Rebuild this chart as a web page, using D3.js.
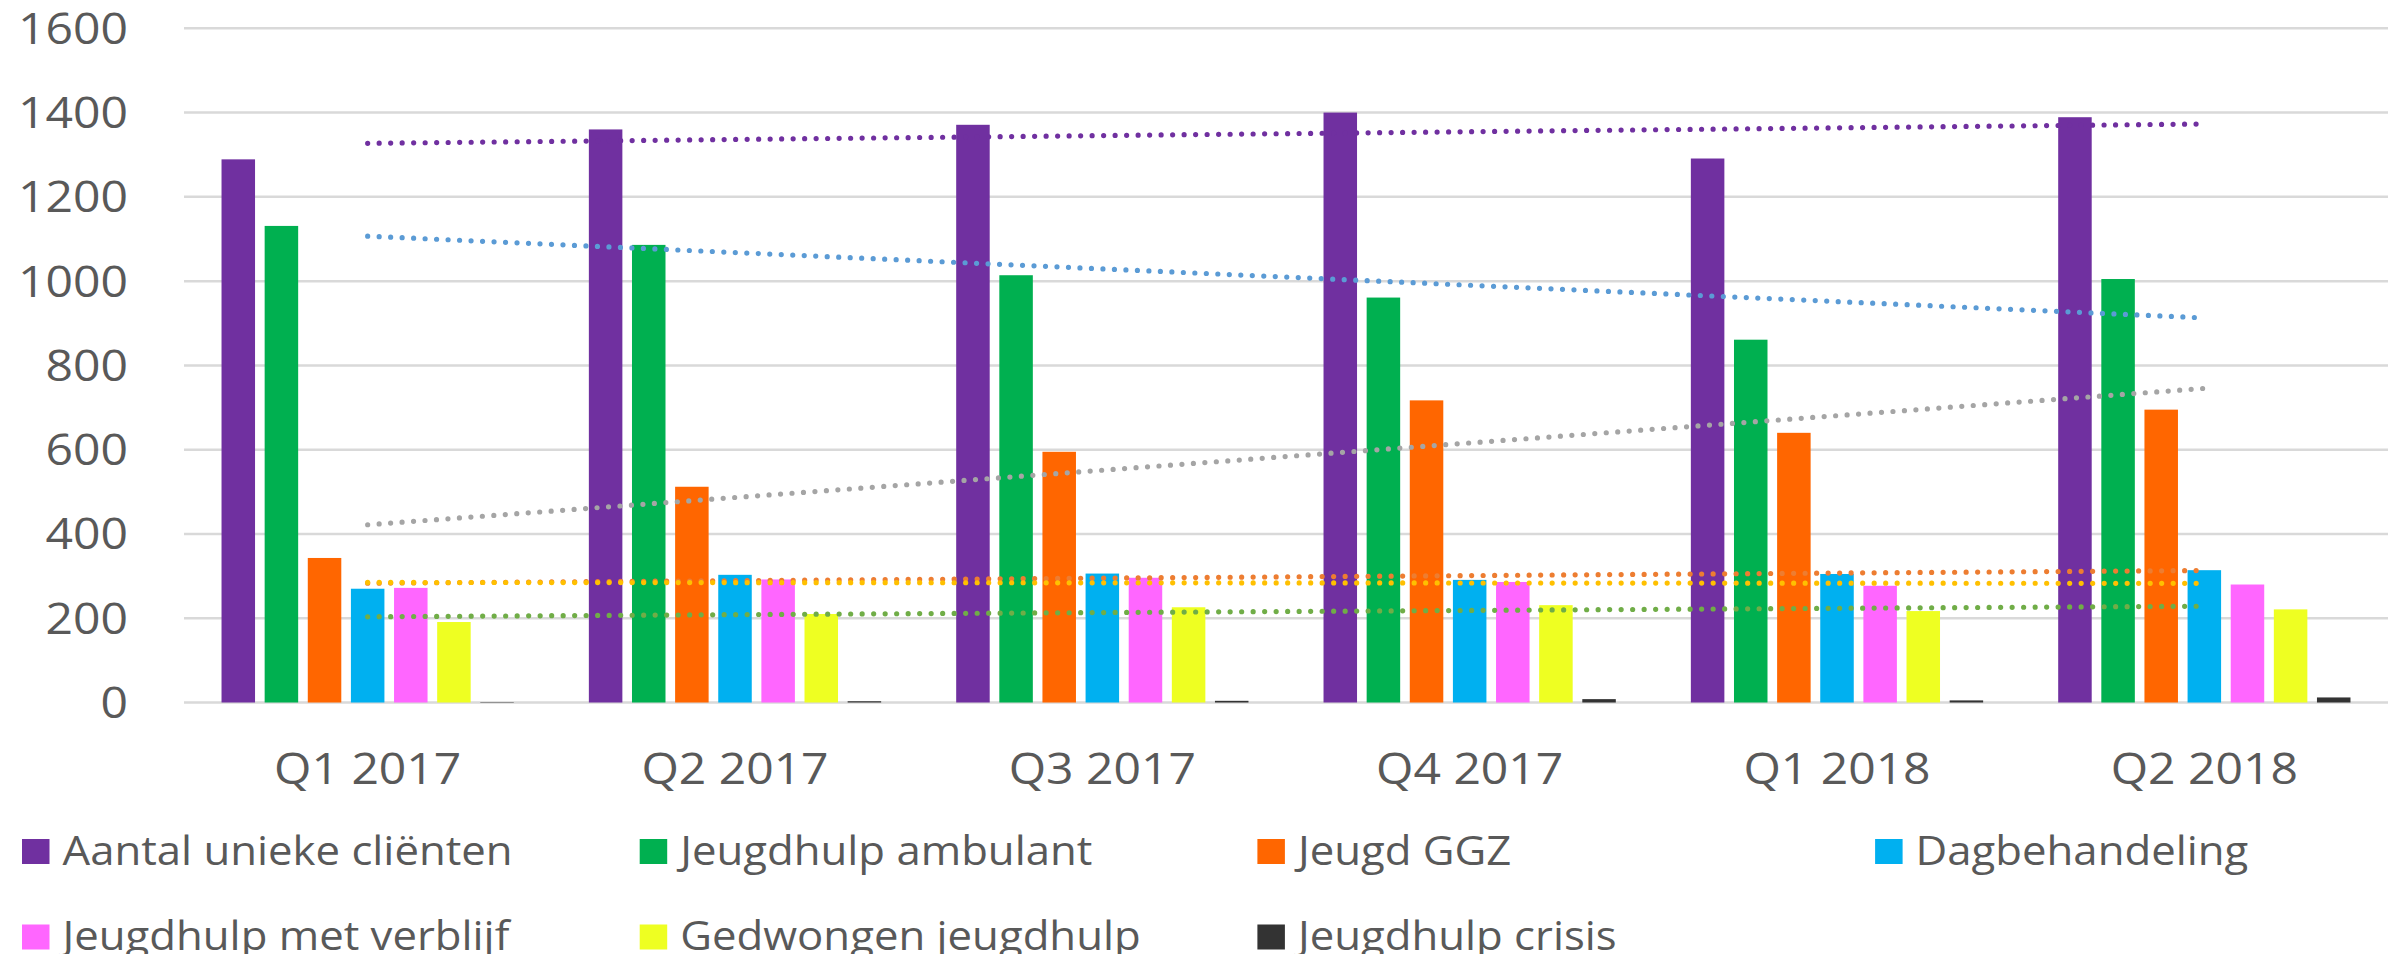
<!DOCTYPE html>
<html>
<head>
<meta charset="UTF-8">
<style>
  body { margin: 0; background: #ffffff; }
  svg { display: block; }
  text { font-family: 'Open Sans', sans-serif; fill: #595959; }
</style>
<title>Jeugdhulp per kwartaal</title>
</head>
<body>
<svg width="2392" height="954"></svg>
<script src="https://cdn.jsdelivr.net/npm/d3@7"></script>
<script>

// categories
const quarters = ["Q1 2017", "Q2 2017", "Q3 2017", "Q4 2017", "Q1 2018", "Q2 2018"];

// series names, in legend order
const seriesNames = ["Aantal unieke cliënten", "Jeugdhulp ambulant", "Jeugd GGZ", "Dagbehandeling",
  "Jeugdhulp met verblijf", "Gedwongen jeugdhulp", "Jeugdhulp crisis"];

// values per quarter
const aantalUniek = [1289, 1360, 1371, 1400, 1291, 1389];
const ambulant = [1131, 1086, 1014, 961, 861, 1005];
const ggz = [343, 512, 595, 717, 640, 695];
const dagbehandeling = [270, 303, 306, 291, 305, 314];
const verblijf = [272, 292, 296, 286, 277, 280];
const gedwongen = [191, 210, 226, 231, 217, 221];
const crisis = [1, 3, 4, 8, 5, 12];

const yTicks = [0, 200, 400, 600, 800, 1000, 1200, 1400, 1600];

const barColors = ["#7030A0", "#00B050", "#FF6600", "#00B0F0", "#FF66FF", "#EEFF22", "#333333"];
// linear trendline colour per series (null = no trendline)
const trendColors = ["#7030A0", "#5B9BD5", "#A5A5A5", "#ED7D31", "#FFC000", "#70AD47", null];

const values = [aantalUniek, ambulant, ggz, dagbehandeling, verblijf, gedwongen, crisis];

let svg = d3.select("svg");

let x0 = d3.scaleBand().domain(quarters).range([184, 2388]).padding(0);
let x1 = d3.scaleBand().domain(seriesNames).range([0, x0.bandwidth()])
  .paddingInner(0.223).paddingOuter(0.87);
let y = d3.scaleLinear().domain([0, 1600]).range([702.5, 28.3]);

const stretch = 1.08;

// gridlines
svg.append("g")
  .selectAll("line")
  .data(yTicks)
  .enter()
  .append("line")
  .attr("x1", 184).attr("x2", 2388)
  .attr("y1", d => y(d)).attr("y2", d => y(d))
  .attr("stroke", "#D9D9D9")
  .attr("stroke-width", 2.5);

// y labels
svg.append("g")
  .selectAll("text")
  .data(yTicks)
  .enter()
  .append("text")
  .attr("text-anchor", "end")
  .attr("font-size", 44.5)
  .attr("transform", d => "translate(128," + (y(d) + 15.5) + ") scale(" + stretch + ",1)")
  .text(d => d);

// bars
let rows = [];
seriesNames.forEach((s, i) => {
  quarters.forEach((q, j) => rows.push({ s: s, q: q, v: values[i][j], c: barColors[i] }));
});

svg.append("g")
  .selectAll("rect")
  .data(rows)
  .enter()
  .append("rect")
  .attr("x", d => x0(d.q) + x1(d.s))
  .attr("y", d => y(d.v))
  .attr("width", x1.bandwidth())
  .attr("height", d => y(0) - y(d.v))
  .attr("fill", d => d.c);

// linear trendlines (least squares, like Excel)
let line = d3.line().x(d => d[0]).y(d => d[1]);
seriesNames.forEach((s, i) => {
  if (!trendColors[i]) return;
  let ys = values[i];
  let xs = ys.map((d, k) => k + 1);
  let mx = d3.mean(xs), my = d3.mean(ys);
  let slope = d3.sum(xs.map((xv, k) => (xv - mx) * (ys[k] - my))) / d3.sum(xs.map(xv => (xv - mx) * (xv - mx)));
  let b = my - slope * mx;
  let first = quarters[0], last = quarters[quarters.length - 1];
  let pts = [
    [x0(first) + x0.bandwidth() / 2, y(b + slope * 1)],
    [x0(last) + x0.bandwidth() / 2, y(b + slope * quarters.length)]
  ];
  svg.append("path")
    .attr("d", line(pts))
    .attr("fill", "none")
    .attr("stroke", trendColors[i])
    .attr("stroke-width", 5.2)
    .attr("stroke-linecap", "round")
    .attr("stroke-dasharray", "0 11.5");
});

// x labels
svg.append("g")
  .selectAll("text")
  .data(quarters)
  .enter()
  .append("text")
  .attr("text-anchor", "middle")
  .attr("font-size", 44.5)
  .attr("transform", d => "translate(" + (x0(d) + x0.bandwidth() / 2) + ",784) scale(" + stretch + ",1)")
  .text(d => d);

// legend, 4 per row
let legend = svg.append("g")
  .selectAll("g")
  .data(seriesNames)
  .enter()
  .append("g")
  .attr("transform", (d, i) => "translate(" + (22 + (i % 4) * 617.7) + "," + (839 + Math.floor(i / 4) * 85.5) + ")");

legend.append("rect")
  .attr("width", 27.5)
  .attr("height", 25)
  .attr("fill", (d, i) => barColors[i]);

legend.append("text")
  .attr("font-size", 41)
  .attr("transform", "translate(40.5,25.5) scale(1.066,1)")
  .text(d => d);

</script>
</body>
</html>
